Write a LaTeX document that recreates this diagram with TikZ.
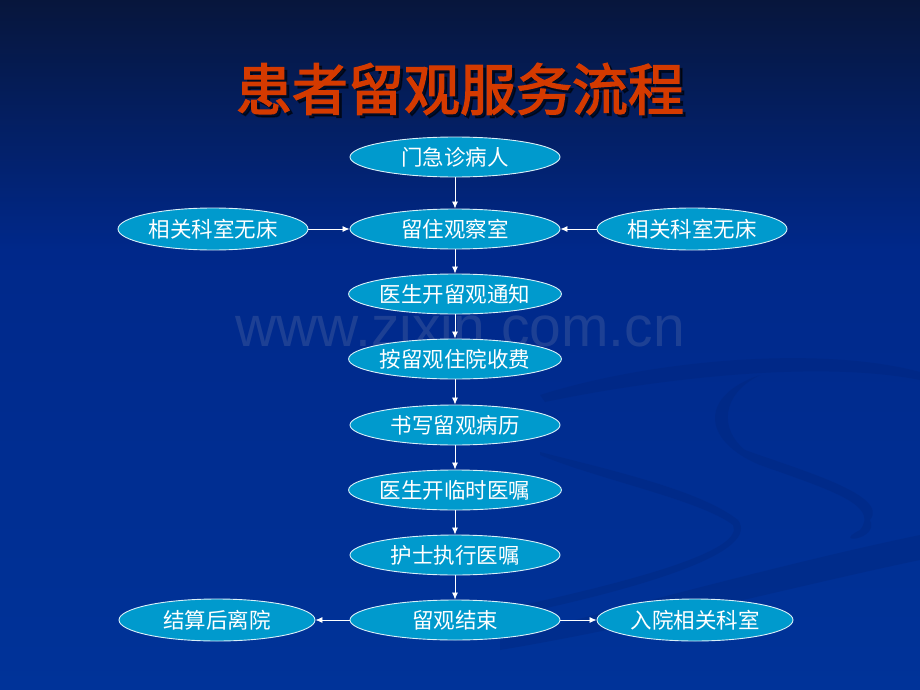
\documentclass[tikz,border=0pt]{standalone}
\usepackage{fontspec}
\setmainfont{Liberation Sans}
\newfontfamily\cjk{Noto Sans CJK SC}
\newfontfamily\cjkbold[FakeBold=2.5]{Noto Sans CJK SC}
\usetikzlibrary{shapes.geometric,arrows.meta}
\definecolor{bgtop}{HTML}{07163C}
\definecolor{bgmid}{HTML}{00288A}
\definecolor{bgbot}{HTML}{003399}
\definecolor{swoosh}{HTML}{002477}
\definecolor{nodefill}{HTML}{009ACD}
\definecolor{titlecol}{HTML}{D43A00}
\definecolor{wmark}{HTML}{2A4A98}
\begin{document}
\begin{tikzpicture}[x=1pt,y=-1pt,
  flow/.style={ellipse,draw=white!85!nodefill,line width=0.9pt,fill=nodefill,
    minimum width=210pt,minimum height=40pt,inner sep=0pt,text=white,
    font=\cjk\fontsize{21.5}{21.5}\selectfont},
  side/.style={flow,minimum width=190pt,minimum height=42pt},
  wide/.style={flow,minimum width=196pt,minimum height=42pt},
  arr/.style={draw=white,line width=0.8pt,-{Latex[length=7pt,width=6pt]}}]
\useasboundingbox (0,0) rectangle (920,690);
% background
\shade[top color=bgtop,bottom color=bgmid] (0,0) rectangle (920,250);
\shade[top color=bgmid,bottom color=bgbot] (0,249.5) rectangle (920,690);
% faint swooshes
\begin{scope}[opacity=0.3]
\fill[swoosh] (540,395) .. controls (650,360) and (820,345) .. (920,372)
  -- (920,380) .. controls (820,360) and (660,378) .. (545,402) -- cycle;
\fill[swoosh] (760,375) .. controls (700,395) and (700,440) .. (760,465)
  .. controls (830,490) and (880,505) .. (860,530)
  .. controls (830,545) and (880,540) .. (870,520)
  .. controls (890,495) and (800,470) .. (745,450)
  .. controls (720,430) and (720,395) .. (760,375) -- cycle;
\fill[swoosh] (540,455) .. controls (600,480) and (700,500) .. (733,525)
  .. controls (745,550) and (640,580) .. (500,610)
  -- (500,618) .. controls (660,585) and (760,550) .. (738,520)
  .. controls (700,490) and (610,470) .. (540,452) -- cycle;
\fill[swoosh] (500,640) .. controls (650,600) and (800,560) .. (920,535)
  -- (920,560) .. controls (800,585) and (650,625) .. (500,650) -- cycle;
\end{scope}
% watermark
\node[text=wmark,opacity=0.7,font=\fontsize{57}{57}\selectfont] (wm) at (460,326) {www.zixin.com.cn};
% title
\node[text=black,opacity=0.55,font=\cjkbold\fontsize{56}{56}\selectfont] (tshadow) at (463,92) {患者留观服务流程};
\node[text=titlecol,font=\cjkbold\fontsize{56}{56}\selectfont] (title) at (460,89) {患者留观服务流程};
% nodes
\node[flow] (n1) at (455,157) {门急诊病人};
\node[flow] (n2) at (455,229) {留住观察室};
\node[side] (l2) at (213,229) {相关科室无床};
\node[side] (r2) at (692,229) {相关科室无床};
\node[flow] (n3) at (455,294) {医生开留观通知};
\node[flow] (n4) at (455,359) {按留观住院收费};
\node[flow] (n5) at (455,425) {书写留观病历};
\node[flow] (n6) at (455,490) {医生开临时医嘱};
\node[flow] (n7) at (455,555) {护士执行医嘱};
\node[flow] (n8) at (455,620) {留观结束};
\node[wide] (l8) at (217,620) {结算后离院};
\node[wide] (r8) at (695,620) {入院相关科室};
% connectors
\draw[arr] (n1) -- (n2);
\draw[arr] (l2) -- (n2);
\draw[arr] (r2) -- (n2);
\draw[arr] (n2) -- (n3);
\draw[arr] (n3) -- (n4);
\draw[arr] (n4) -- (n5);
\draw[arr] (n5) -- (n6);
\draw[arr] (n6) -- (n7);
\draw[arr] (n7) -- (n8);
\draw[arr] (n8) -- (l8);
\draw[arr] (n8) -- (r8);
\end{tikzpicture}
\end{document}
